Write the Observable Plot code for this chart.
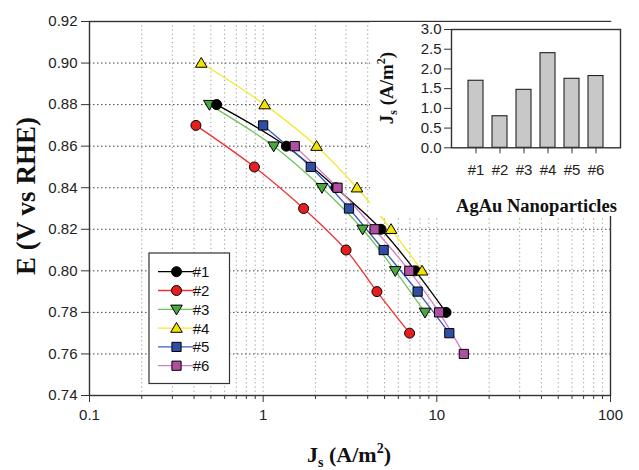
<!DOCTYPE html>
<html><head><meta charset="utf-8">
<script src="https://cdn.jsdelivr.net/npm/d3@7"></script>
<script src="https://cdn.jsdelivr.net/npm/@observablehq/plot@0.6"></script>
<style>
body{margin:0;background:#fff;}
#wrap{position:relative;width:639px;height:470px;overflow:hidden;}
#inset{position:absolute;left:370px;top:22px;background:#fff;}
</style></head><body><div id="wrap"><div id="main"></div><div id="inset"></div></div>
<script>
// ---- data ----
const seriesNames = ["#1","#2","#3","#4","#5","#6"];
const E1 = [0.88,0.86,0.84,0.82,0.80,0.78];
const J1 = [0.54,1.36,2.62,4.77,7.52,11.3];
const E2 = [0.87,0.85,0.83,0.81,0.79,0.77];
const J2 = [0.41,0.89,1.71,3.0,4.52,6.97];
const E3 = [0.88,0.86,0.84,0.82,0.80,0.78];
const J3 = [0.49,1.15,2.18,3.74,5.76,8.55];
const E4 = [0.90,0.88,0.86,0.84,0.82,0.80];
const J4 = [0.44,1.02,2.03,3.47,5.45,8.22];
const E5 = [0.87,0.85,0.83,0.81,0.79,0.77];
const J5 = [1.0,1.88,3.12,4.94,7.75,11.8];
const E6 = [0.86,0.84,0.82,0.80,0.78,0.76];
const J6 = [1.52,2.68,4.38,6.94,10.3,14.3];
const barValues = [1.70,0.80,1.47,2.40,1.75,1.82];
const yTicks = [0.74,0.76,0.78,0.80,0.82,0.84,0.86,0.88,0.90,0.92];
const yGridTicks = [0.76,0.78,0.80,0.82,0.84,0.86,0.88,0.90];
const xMajor = [0.1,1,10,100];
const xMinor = [0.2,0.3,0.4,0.5,0.6,0.7,0.8,0.9,2,3,4,5,6,7,8,9,20,30,40,50,60,70,80,90];
const xGridTicks = [0.2,0.3,0.4,0.5,0.6,0.7,0.8,0.9,1,2,3,4,5,6,7,8,9,10,20,30,40,50,60,70,80,90];
const insetTicks = [0,0.5,1.0,1.5,2.0,2.5,3.0];

// ---- styles ----
const lineColors = ["#000000","#f03030","#6cc35a","#f2e830","#3a5cc0","#d47fc4"];
const fillColors = ["#000000","#e61e1e","#4aa841","#f2e200","#2f4fa6","#b04ea2"];
const circleSym = {draw(c){c.moveTo(5,0);c.arc(0,0,5,0,2*Math.PI);c.closePath();}};
const squareSym = {draw(c){c.rect(-4.6,-4.6,9.2,9.2);}};
const triUp = {draw(c){c.moveTo(0,-5.6);c.lineTo(5.8,4.2);c.lineTo(-5.8,4.2);c.closePath();}};
const triDown = {draw(c){c.moveTo(0,5.6);c.lineTo(5.8,-4.2);c.lineTo(-5.8,-4.2);c.closePath();}};
const symbols = [circleSym,circleSym,triDown,triUp,squareSym,squareSym];

const Es = [E1,E2,E3,E4,E5,E6], Js = [J1,J2,J3,J4,J5,J6];
const seriesData = seriesNames.map((name,i)=>Es[i].map((e,k)=>({name,E:e,J:Js[i][k]})));
const drawOrder = [2,0,1,3,4,5];

const sans = '"Liberation Sans", Arial, sans-serif';
const serif = '"Liberation Serif", "Times New Roman", serif';

const main = Plot.plot({
  width:639, height:470,
  marginLeft:89, marginRight:29, marginTop:21, marginBottom:75,
  x:{type:"log", domain:[0.1,100]},
  y:{domain:[0.74,0.92]},
  style:{fontFamily:sans, fontSize:"15px", color:"#222", background:"#fff", overflow:"visible"},
  marks:[
    Plot.gridX(xGridTicks,{stroke:"#999", strokeOpacity:1, strokeWidth:1, strokeDasharray:"1.2,3"}),
    Plot.gridY(yGridTicks,{stroke:"#444", strokeOpacity:1, strokeWidth:1, strokeDasharray:"1.5,2.5"}),
    ...seriesData.map((d,i)=>Plot.line(d,{x:"J",y:"E",stroke:lineColors[i],strokeWidth:1.3,curve:"catmull-rom"})),
    ...drawOrder.map(i=>Plot.dot(seriesData[i],{x:"J",y:"E",symbol:symbols[i],fill:fillColors[i],stroke:"#000",strokeWidth:1,r:5})),
    Plot.frame({stroke:"#333", strokeWidth:1.4}),
    Plot.axisY(yTicks,{tickSize:8, tickPadding:4, tickFormat:".2f", label:null, fontSize:15, stroke:"#333"}),
    Plot.axisX(xMinor,{tickSize:4, tickFormat:()=>"", label:null, stroke:"#333"}),
    Plot.axisX(xMajor,{tickSize:7, tickPadding:7, tickFormat:d=>String(d), label:null, fontSize:15, stroke:"#333"})
  ]
});
document.getElementById("main").appendChild(main);

const svg = d3.select(main);
// axis titles
const xt = svg.append("text").attr("x",349).attr("y",462).attr("text-anchor","middle")
  .attr("font-family",serif).attr("font-weight","bold").attr("font-size",22).attr("fill","#111");
xt.append("tspan").text("J");
xt.append("tspan").attr("dy",5).attr("font-size",14).text("s");
xt.append("tspan").attr("dy",-5).text(" (A/m");
xt.append("tspan").attr("dy",-9).attr("font-size",14).text("2");
xt.append("tspan").attr("dy",9).text(")");

svg.append("text").attr("transform","translate(35,196) rotate(-90)").attr("text-anchor","middle")
  .attr("font-family",serif).attr("font-weight","bold").attr("font-size",27).attr("fill","#111")
  .text("E (V vs RHE)");

// legend
const lg = svg.append("g");
lg.append("rect").attr("x",149).attr("y",253).attr("width",80.5).attr("height",130.5)
  .attr("fill","#fff").attr("stroke","#333").attr("stroke-width",1.2);
seriesNames.forEach((name,i)=>{
  const y = 271.7 + i*18.8;
  lg.append("line").attr("x1",158).attr("x2",194).attr("y1",y).attr("y2",y)
    .attr("stroke",lineColors[i]).attr("stroke-width",1.3);
  const p = d3.path(); symbols[i].draw(p);
  lg.append("path").attr("d",p.toString()).attr("transform",`translate(176.5,${y})`)
    .attr("fill",fillColors[i]).attr("stroke","#000").attr("stroke-width",1);
  lg.append("text").attr("x",201).attr("y",y).attr("dy","0.36em").attr("font-family",sans)
    .attr("font-size",15).attr("fill","#111").text(name);
});

// inset
const barData = seriesNames.map((name,i)=>({name,value:barValues[i]}));
const inset = Plot.plot({
  width:269, height:194,
  marginLeft:81, marginRight:19, marginTop:7, marginBottom:68.7,
  x:{type:"band", domain:seriesNames, paddingInner:0.38, paddingOuter:0.68},
  y:{domain:[0,3]},
  style:{fontFamily:sans, fontSize:"15px", color:"#222", background:"#fff", overflow:"visible"},
  marks:[
    Plot.barY(barData,{x:"name",y:"value",fill:"#c8c8c8",stroke:"#222",strokeWidth:1.1}),
    Plot.frame({stroke:"#333", strokeWidth:1.4}),
    Plot.axisY(insetTicks,{tickSize:7, tickPadding:3, tickFormat:".1f", label:null, fontSize:15, stroke:"#333"}),
    Plot.axisX({tickSize:6, tickPadding:11, label:null, fontSize:15, stroke:"#333"})
  ]
});
document.getElementById("inset").appendChild(inset);
const isv = d3.select(inset);
const it = isv.append("text").attr("transform","translate(23,66) rotate(-90)").attr("text-anchor","middle")
  .attr("font-family",serif).attr("font-weight","bold").attr("font-size",19).attr("fill","#111");
it.append("tspan").text("J");
it.append("tspan").attr("dy",4).attr("font-size",12).text("s");
it.append("tspan").attr("dy",-4).text(" (A/m");
it.append("tspan").attr("dy",-8).attr("font-size",12).text("2");
it.append("tspan").attr("dy",8).text(")");
isv.append("text").attr("x",166.5).attr("y",189.5).attr("text-anchor","middle")
  .attr("font-family",serif).attr("font-weight","bold").attr("font-size",18.5).attr("fill","#111")
  .text("AgAu Nanoparticles");
</script></body></html>
